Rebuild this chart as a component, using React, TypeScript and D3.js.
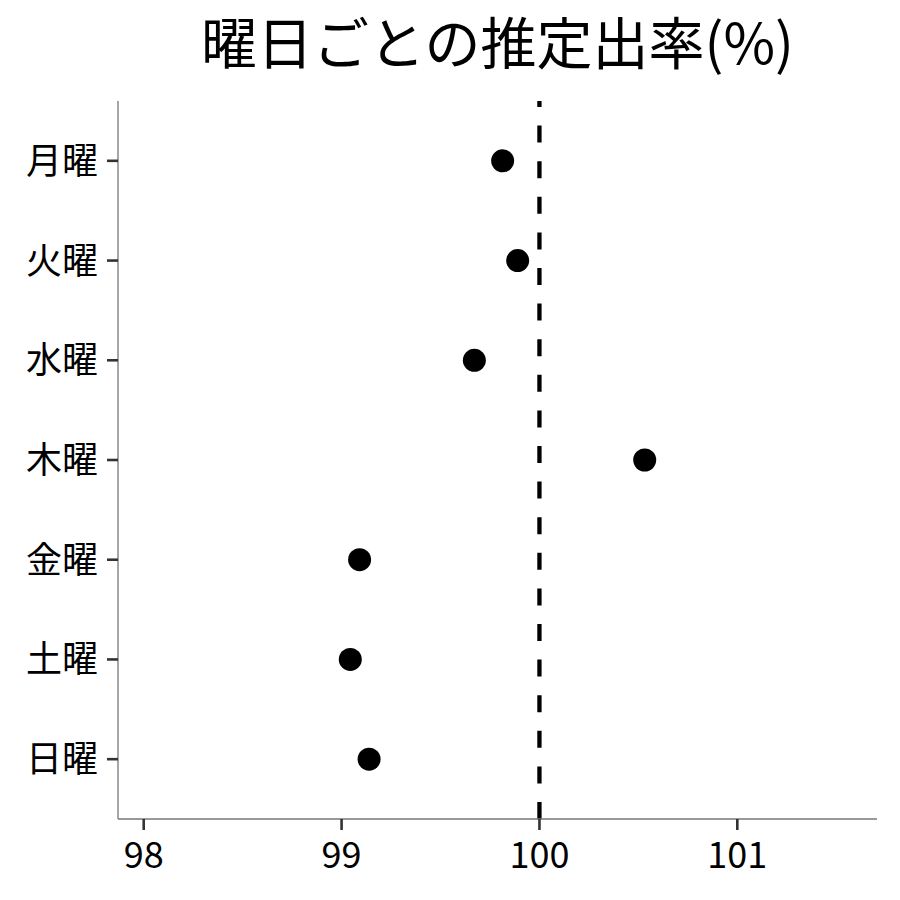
import React, { useEffect, useRef } from 'react';
import * as d3 from 'd3';

// weekday labels, top to bottom
const days: string[] = ['月曜', '火曜', '水曜', '木曜', '金曜', '土曜', '日曜'];
// estimated rate (%) per weekday
const rates: number[] = [99.814, 99.89, 99.671, 100.532, 99.091, 99.044, 99.139];
const xTicks: number[] = [98, 99, 100, 101];
const refValue = 100;
const title = '曜日ごとの推定出率(%)';

const W = 900;
const H = 900;
const FONT = '"Noto Sans CJK JP", "Noto Sans", sans-serif';

export default function App() {
  const svgRef = useRef<SVGSVGElement | null>(null);

  useEffect(() => {
    const svg = d3.select(svgRef.current);
    svg.selectAll('*').remove();

    const left = 118, right = 877, top = 101, bottom = 819;

    const x = d3.scaleLinear().domain([97.87, 101.706]).range([left, right]);
    const y = d3.scalePoint<string>().domain(days).range([top, bottom]).padding(0.6);

    // title
    svg.append('text')
      .attr('x', (left + right) / 2)
      .attr('y', 64)
      .attr('text-anchor', 'middle')
      .attr('font-family', FONT)
      .attr('font-size', 56)
      .attr('fill', '#000')
      .text(title);

    // reference line, dashes start at the bottom like R does
    svg.append('line')
      .attr('x1', x(refValue)).attr('x2', x(refValue))
      .attr('y1', bottom).attr('y2', top)
      .attr('stroke', '#000')
      .attr('stroke-width', 4.3)
      .attr('stroke-dasharray', '17,18.6');

    // points
    svg.append('g')
      .selectAll('circle')
      .data(days)
      .join('circle')
      .attr('cx', (_d, i) => x(rates[i]))
      .attr('cy', d => y(d) as number)
      .attr('r', 11.5)
      .attr('fill', '#000');

    // axis lines
    svg.append('line')
      .attr('x1', left).attr('x2', left).attr('y1', top).attr('y2', bottom)
      .attr('stroke', '#777').attr('stroke-width', 1.3);
    svg.append('line')
      .attr('x1', left).attr('x2', right).attr('y1', bottom).attr('y2', bottom)
      .attr('stroke', '#777').attr('stroke-width', 1.3);

    // x ticks
    const xt = svg.append('g').selectAll('g').data(xTicks).join('g')
      .attr('transform', d => `translate(${x(d)},0)`);
    xt.append('line')
      .attr('y1', bottom).attr('y2', bottom + 11)
      .attr('stroke', '#333').attr('stroke-width', 2.6);
    xt.append('text')
      .attr('y', bottom + 49)
      .attr('text-anchor', 'middle')
      .attr('font-family', FONT)
      .attr('font-size', 36)
      .attr('fill', '#000')
      .text(d => String(d));

    // y ticks
    const yt = svg.append('g').selectAll('g').data(days).join('g')
      .attr('transform', d => `translate(0,${y(d)})`);
    yt.append('line')
      .attr('x1', left - 11).attr('x2', left)
      .attr('stroke', '#333').attr('stroke-width', 2.6);
    yt.append('text')
      .attr('x', left - 20)
      .attr('dy', '0.36em')
      .attr('text-anchor', 'end')
      .attr('font-family', FONT)
      .attr('font-size', 36)
      .attr('fill', '#000')
      .text(d => d);

    return () => {
      svg.selectAll('*').remove();
    };
  }, []);

  return (
    <svg ref={svgRef} width={W} height={H} style={{ position: 'absolute', left: 0, top: 0, background: '#fff' }} />
  );
}
